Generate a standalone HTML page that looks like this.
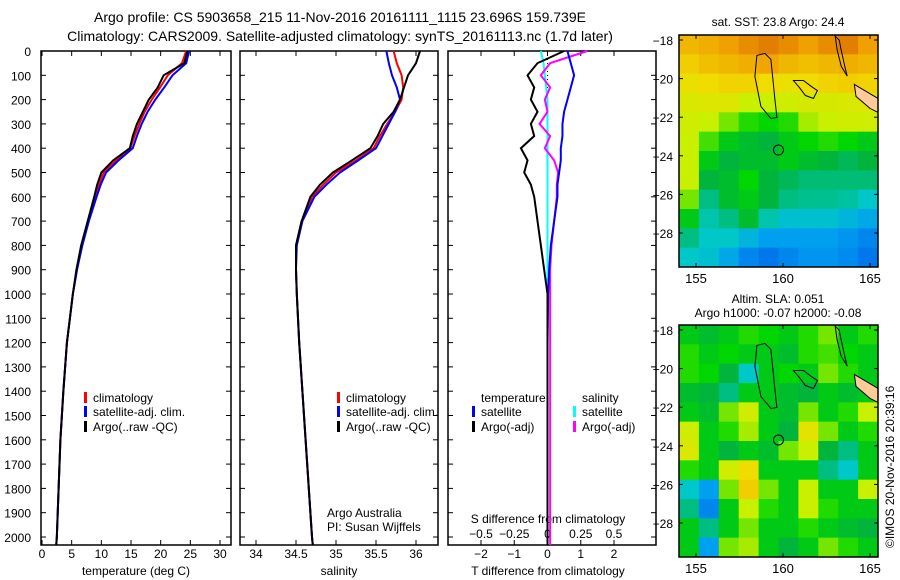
<!DOCTYPE html>
<html><head><meta charset="utf-8"><style>
body{margin:0;background:#fff;}
svg{display:block;font-family:"Liberation Sans",sans-serif;}
</style></head><body>
<svg id="fig" width="900" height="580" viewBox="0 0 900 580">
<text x="340" y="22" font-size="14" text-anchor="middle">Argo profile: CS 5903658_215 11-Nov-2016 20161111_1115 23.696S 159.739E</text>
<text x="340" y="41" font-size="14" text-anchor="middle">Climatology: CARS2009. Satellite-adjusted climatology: synTS_20161113.nc (1.7d later)</text>
<text x="778" y="26" font-size="12" text-anchor="middle">sat. SST: 23.8 Argo: 24.4</text>
<text x="778" y="303" font-size="12" text-anchor="middle">Altim. SLA: 0.051</text>
<text x="778" y="317" font-size="12" text-anchor="middle">Argo h1000: -0.07 h2000: -0.08</text>
<text transform="translate(894,548) rotate(-90)" font-size="12">©IMOS 20-Nov-2016 20:39:16</text>
<g id="plots"></g>
</svg>
<script>
// ---- data ----
const depths = [0,50,100,150,200,250,300,350,400,450,500,550,600,700,800,900,1000,1200,1400,1600,1800,2000,2050];
const argoTemp = [24.5,24,20.5,19.5,18,17,16,15.3,14.8,12,10,9.3,8.8,7.7,6.6,5.8,5.2,4.2,3.6,3.1,2.8,2.5,2.4];
const climTemp = [24.3,23.6,21.2,19.9,18.5,17.3,16.4,15.6,14.9,12.5,10.4,9.6,9.0,7.8,6.7,5.9,5.2,4.2,3.6,3.1,2.8,2.5,2.4];
const satTemp = [24.8,24.3,22,20.6,19.1,17.8,16.8,16.0,15.3,12.9,10.8,9.9,9.2,7.9,6.8,5.9,5.2,4.2,3.6,3.1,2.8,2.5,2.4];
const argoSal = [36.05,36.0,35.9,35.85,35.8,35.72,35.59,35.52,35.43,35.2,34.96,34.8,34.68,34.57,34.5,34.5,34.51,34.54,34.58,34.62,34.66,34.7,34.71];
const climSal = [35.72,35.76,35.82,35.84,35.82,35.74,35.64,35.55,35.47,35.25,35.0,34.84,34.7,34.57,34.5,34.5,34.51,34.54,34.58,34.62,34.66,34.7,34.71];
const satSal = [35.63,35.66,35.7,35.76,35.8,35.74,35.66,35.58,35.5,35.28,35.05,34.88,34.73,34.58,34.51,34.5,34.51,34.54,34.58,34.62,34.66,34.7,34.71];
const dTargo = [0.5,-0.3,-0.6,-0.4,-0.5,-0.3,-0.5,-0.4,-0.8,-0.6,-0.7,-0.5,-0.4,-0.3,-0.2,-0.1,0,0,0,0,0,0,0];
const dTsat = [0.6,0.7,0.8,0.7,0.6,0.5,0.45,0.45,0.4,0.4,0.35,0.3,0.3,0.2,0.1,0.05,0.02,0,0,0,0,0,0];
const dSsat = [-0.05,-0.03,-0.02,-0.01,0,0,0,0,0,0,0,0,0,0,0,0,0,0,0,0,0,0,0];
const dSargo = [0.3,0.02,-0.05,0.02,-0.02,0.0,-0.06,0.02,-0.02,0.05,0.08,0.07,0.07,0.05,0.03,0.02,0.02,0.02,0.02,0.02,0.02,0.02,0.02];
const depthTicks = [0,100,200,300,400,500,600,700,800,900,1000,1100,1200,1300,1400,1500,1600,1700,1800,1900,2000];
const tempTicks = [0,5,10,15,20,25,30];
const salTicks = [34,34.5,35,35.5,36];
const dTTicks = [-2,-1,0,1,2];
const dSTicks = [-0.5,-0.25,0,0.25,0.5];
const dSLabels = ["\u22120.5","\u22120.25","0","0.25","0.5"];
const dTLabels = ["\u22122","\u22121","0","1","2"];
const lonTicks = [155,160,165];
const latTicks = [-18,-20,-22,-24,-26,-28];
// coarse map fields (0=cold/low .. 1=warm/high), rows north->south
const sstField = [
[.80,.82,.85,.88,.9,.88,.85,.88,.9,.85],
[.75,.78,.8,.82,.84,.8,.78,.8,.82,.8],
[.7,.72,.74,.74,.72,.7,.72,.74,.75,.74],
[.65,.66,.66,.6,.6,.62,.64,.64,.65,.66],
[.62,.6,.55,.5,.48,.5,.58,.6,.62,.62],
[.6,.52,.45,.42,.4,.45,.48,.5,.48,.45],
[.6,.45,.4,.42,.42,.45,.42,.4,.38,.4],
[.6,.4,.42,.48,.4,.38,.36,.36,.36,.36],
[.55,.35,.42,.45,.4,.35,.34,.34,.33,.3],
[.45,.32,.35,.42,.32,.28,.28,.28,.25,.22],
[.35,.3,.3,.25,.2,.2,.2,.2,.18,.15],
[.3,.28,.22,.15,.12,.15,.18,.18,.16,.12]];
const slaField = [
[.45,.42,.45,.5,.48,.45,.5,.55,.45,.5],
[.5,.45,.48,.45,.45,.42,.5,.52,.48,.45],
[.5,.48,.4,.3,.45,.48,.45,.55,.5,.45],
[.42,.4,.35,.45,.45,.42,.4,.45,.42,.45],
[.45,.42,.55,.62,.45,.42,.55,.45,.5,.6],
[.62,.45,.5,.58,.45,.4,.68,.55,.45,.5],
[.65,.45,.4,.45,.42,.55,.6,.4,.35,.45],
[.5,.45,.62,.72,.45,.45,.45,.35,.3,.45],
[.3,.2,.55,.75,.55,.45,.6,.45,.45,.6],
[.35,.15,.45,.6,.5,.45,.6,.5,.45,.45],
[.45,.35,.45,.55,.45,.45,.5,.45,.42,.4],
[.45,.2,.55,.58,.45,.4,.45,.55,.5,.45]];

// ---- helpers ----
const NS="http://www.w3.org/2000/svg";
const root=document.getElementById('plots');
function mk(tag,attrs,parent){const e=document.createElementNS(NS,tag);for(const k in attrs)e.setAttribute(k,attrs[k]);(parent||root).appendChild(e);return e;}
const yTop=51, pxPerM=(537-51)/2000, yBot=545;
const yD=d=>yTop+d*pxPerM;
function lin(d0,d1,r0,r1){return v=>r0+(v-d0)/(d1-d0)*(r1-r0);}
const xT=lin(0,30,42,220), xS=lin(34,36,256,416), xDT=lin(-2,2,481,614), xDS=lin(-0.5,0.5,481,614);

function frame(x0,x1,name){
  const r=mk('rect',{x:x0,y:yTop,width:x1-x0,height:yBot-yTop,fill:'none',stroke:'#000','stroke-width':1.5});
  
  
  depthTicks.forEach(d=>{mk('line',{x1:x0,x2:x0+5,y1:yD(d),y2:yD(d),stroke:'#000'});mk('line',{x1:x1,x2:x1-5,y1:yD(d),y2:yD(d),stroke:'#000'});});
}
function xticks(ticks,labels,sx,y,x0,name){
  ticks.forEach((t,i)=>{
    mk('line',{x1:sx(t),x2:sx(t),y1:yBot,y2:yBot-5,stroke:'#000'});
    mk('line',{x1:sx(t),x2:sx(t),y1:yTop,y2:yTop+5,stroke:'#000'});
    const tx=mk('text',{x:sx(t),y:y,'font-size':12,'text-anchor':'middle'});tx.textContent=labels[i];
    
    
  });
}
function line(xs,sx,color,name,w){
  const p=mk('polyline',{points:depths.map((d,i)=>sx(xs[i])+','+Math.min(yD(d),yBot)).join(' '),fill:'none',stroke:color,'stroke-width':w||2});
  
  
}
function label(x,y,txt,name,anchor,size){const t=mk('text',{x:x,y:y,'font-size':size||12,'text-anchor':anchor||'start'});t.textContent=txt;return t;}
function legendItem(x,y,color,txt,name){
  const r=mk('rect',{x:x,y:y-10,width:3,height:11,fill:color});
  
  
  label(x+9,y,txt,name);
}

// ---- panel 1: temperature ----
frame(41,231,'temperature-panel');
depthTicks.forEach(d=>{const t=label(31,yD(d)+5,String(d),'depth-tick-label','end');});
xticks(tempTicks,tempTicks.map(String),xT,558,41,'temperature');
label(136,575,'temperature (deg C)','temperature-axis-title','middle');
line(climTemp,xT,'#f00','temp-climatology');
line(satTemp,xT,'#00f','temp-satellite-adj');
line(argoTemp,xT,'#000','temp-argo');
legendItem(84,402,'#f00','climatology','legend-climatology-1');
legendItem(84,416,'#00f','satellite-adj. clim.','legend-satellite-1');
legendItem(84,431,'#000','Argo(..raw -QC)','legend-argo-1');

// ---- panel 2: salinity ----
frame(240,438,'salinity-panel');
xticks(salTicks,salTicks.map(String),xS,558,240,'salinity');
label(339,575,'salinity','salinity-axis-title','middle');
line(climSal,xS,'#f00','sal-climatology');
line(satSal,xS,'#00f','sal-satellite-adj');
line(argoSal,xS,'#000','sal-argo');
legendItem(337,402,'#f00','climatology','legend-climatology-2');
legendItem(337,416,'#00f','satellite-adj. clim.','legend-satellite-2');
legendItem(337,431,'#000','Argo(..raw -QC)','legend-argo-2');
label(327,517,'Argo Australia','credit-line-1');
label(327,531,'PI: Susan Wijffels','credit-line-2');

// ---- panel 3: differences ----
frame(448,656,'difference-panel');
xticks(dTTicks,dTLabels,xDT,558,448,'t-difference');
label(548,575,'T difference from climatology','t-difference-axis-title','middle');
dSTicks.forEach((t,i)=>{const tx=label(xDS(t),538,dSLabels[i],'s-difference-tick-label','middle');});
label(548,523,'S difference from climatology','s-difference-axis-title','middle');
mk('line',{x1:xDT(0),x2:xDT(0),y1:yTop,y2:yBot,stroke:'#000','stroke-dasharray':'1,3'});
line(dSsat,xDS,'#0ff','s-diff-satellite');
line(dSargo,xDS,'#f0f','s-diff-argo');
line(dTsat,xDT,'#00f','t-diff-satellite');
line(dTargo,xDT,'#000','t-diff-argo');
label(481,402,'temperature','legend-temperature-heading');
legendItem(472,416,'#00f','satellite','legend-t-satellite');
legendItem(472,431,'#000','Argo(-adj)','legend-t-argo');
label(582,402,'salinity','legend-salinity-heading');
legendItem(573,416,'#0ff','satellite','legend-s-satellite');
legendItem(573,431,'#f0f','Argo(-adj)','legend-s-argo');

// ---- maps ----
function jet(v){
  const stops=[[0,[0,60,230]],[.2,[0,160,240]],[.3,[0,200,200]],[.4,[0,180,60]],[.48,[0,215,0]],[.6,[200,240,0]],[.72,[240,220,0]],[.85,[240,160,0]],[1,[200,60,0]]];
  for(let i=1;i<stops.length;i++){if(v<=stops[i][0]){const a=stops[i-1],b=stops[i],f=(v-a[0])/(b[0]-a[0]);return 'rgb('+a[1].map((c,k)=>Math.round(c+f*(b[1][k]-c))).join(',')+')';}}
  return 'rgb(200,60,0)';
}
function map(field,y0,y1,lat18y,lat28y,name){
  const x0=679,x1=878;
  const g=mk('g',{});
  
  
  const rows=field.length,cols=field[0].length,cw=(x1-x0)/cols,ch=(y1-y0)/rows;
  field.forEach((row,r)=>row.forEach((v,c)=>{
    const cell=mk('rect',{x:x0+c*cw,y:y0+r*ch,width:cw+0.5,height:ch+0.5,fill:jet(v)},g);
    
    
  }));
  const lx=lin(155,165,696,870), ly=lin(-18,-28,lat18y,lat28y);
  mk('path',{d:`M${lx(158.5)},${ly(-18.8)} l8,-2 l6,6 l4,40 l2,18 l-6,1 l-10,-12 l-6,-30 z`,fill:'none',stroke:'#000'},g);
  mk('path',{d:`M${lx(160.6)},${ly(-20.1)} l10,0 l8,6 l6,4 l-4,8 l-8,-3 l-6,-8 z`,fill:'none',stroke:'#000'},g);
  mk('path',{d:`M${lx(163)},${ly(-17.8)} l4,4 l2,10 l4,18 l2,8 l-6,-10 l-4,-16 z`,fill:'none',stroke:'#000'},g);
  mk('path',{d:`M${lx(164.1)},${ly(-20.3)} l${x1-lx(164.1)},14 l0,14 l-8,-4 l-14,-12 z`,fill:'#fc9',stroke:'#000'},g);
  mk('circle',{cx:lx(159.74),cy:ly(-23.7),r:5,fill:'none',stroke:'#000'},g);
  mk('rect',{x:x0,y:y0,width:x1-x0,height:y1-y0,fill:'none',stroke:'#000','stroke-width':1.5},g);
  latTicks.forEach(l=>{mk('line',{x1:x0,x2:x0+4,y1:ly(l),y2:ly(l),stroke:'#000'},g);mk('line',{x1:x1,x2:x1-4,y1:ly(l),y2:ly(l),stroke:'#000'},g);
    label(x0-6,ly(l)+5,String(l).replace('-','\u2212'),name+'-lat-label','end');});
  lonTicks.forEach(l=>{mk('line',{x1:lx(l),x2:lx(l),y1:y0,y2:y0+4,stroke:'#000'},g);mk('line',{x1:lx(l),x2:lx(l),y1:y1,y2:y1-4,stroke:'#000'},g);
    label(lx(l),y1+16,String(l),name+'-lon-label','middle',13);});
}
map(sstField,35,267,40,233,'sst-map');
map(slaField,325,557,330,523,'sla-map');
</script>
</body></html>
